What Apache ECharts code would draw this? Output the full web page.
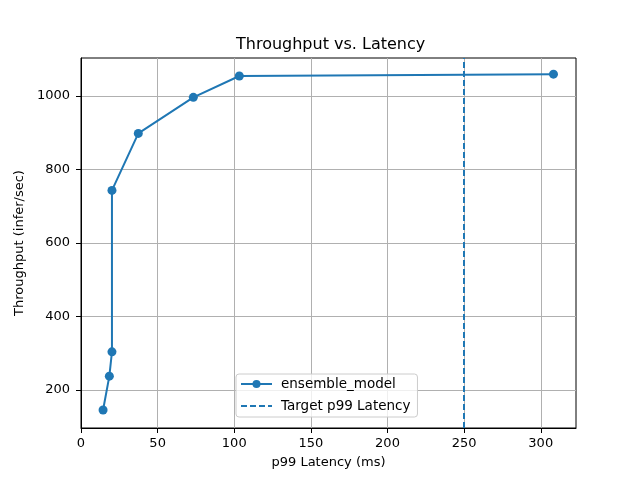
<!DOCTYPE html>
<html>
<head>
<meta charset="utf-8">
<script src="https://cdn.jsdelivr.net/npm/echarts@6/dist/echarts.min.js"></script>
<style>
  html, body { margin: 0; padding: 0; background: #fff; }
  #main { width: 640px; height: 480px; }
</style>
</head>
<body>
<div id="main"></div>
<script>
// p99 latency (ms) vs throughput (infer/sec) for ensemble_model
var latency = [14.4, 18.5, 20.2, 20.2, 37.4, 73.3, 103.3, 308.3];
var throughput = [146, 238, 304, 743, 898, 996, 1054, 1059];
var targetLatency = 250;

var xRange = [0, 323];
var yRange = [97, 1103];
var xTicks = [0, 50, 100, 150, 200, 250, 300];
var yTicks = [200, 400, 600, 800, 1000];

var blue = '#1f77b4';
var font = 'DejaVu Sans';

var points = [];
for (var i = 0; i < latency.length; i++) {
    points.push([latency[i], throughput[i]]);
}

var myChart = echarts.init(document.getElementById('main'));
myChart.setOption({
    animation: false,
    backgroundColor: '#fff',
    title: {
        text: 'Throughput vs. Latency',
        left: 231,
        top: 32,
        textStyle: { fontFamily: font, fontSize: 16, fontWeight: 'normal', color: '#000' }
    },
    grid: {
        left: 81, right: 64, top: 58, bottom: 52,
        show: true, borderColor: '#000', borderWidth: 1
    },
    legend: {
        orient: 'vertical',
        left: 236, top: 374,
        padding: [3, 7, 4, 4],
        itemGap: 8,
        itemWidth: 31, itemHeight: 10,
        backgroundColor: 'rgba(255,255,255,0.8)',
        borderColor: '#cccccc', borderWidth: 1, borderRadius: 3,
        textStyle: { fontFamily: font, fontSize: 13.5, color: '#000', padding: [0, 0, 0, 4] },
        data: [
            { name: 'ensemble_model' },
            // line-only entry: hide the marker that a line series always draws
            { name: 'Target p99 Latency', itemStyle: { color: 'rgba(0,0,0,0)', borderWidth: 0 } }
        ]
    },
    xAxis: {
        type: 'value',
        min: xRange[0], max: xRange[1],
        interval: 50,
        name: 'p99 Latency (ms)',
        nameLocation: 'middle', nameGap: 28,
        nameTextStyle: { fontFamily: font, fontSize: 13, color: '#000' },
        axisLine: { show: true, onZero: false, lineStyle: { color: '#000' } },
        axisTick: { show: true, length: 5, customValues: xTicks, lineStyle: { color: '#000' } },
        axisLabel: {
            fontFamily: font, fontSize: 13, color: '#000', margin: 9,
            customValues: xTicks,
            formatter: function (v) { return String(v); }
        },
        splitLine: { show: true, lineStyle: { color: '#b0b0b0', width: 1 } }
    },
    yAxis: {
        type: 'value',
        min: yRange[0], max: yRange[1],
        splitNumber: 5,
        name: 'Throughput (infer/sec)',
        nameLocation: 'middle', nameGap: 46,
        nameTextStyle: { fontFamily: font, fontSize: 13, color: '#000' },
        axisLine: { show: true, onZero: false, lineStyle: { color: '#000' } },
        axisTick: { show: true, length: 5, customValues: yTicks, lineStyle: { color: '#000' } },
        axisLabel: {
            fontFamily: font, fontSize: 13, color: '#000', margin: 11,
            customValues: yTicks,
            formatter: function (v) { return String(v); }
        },
        splitLine: { show: true, lineStyle: { color: '#b0b0b0', width: 1 } }
    },
    series: [
        {
            name: 'ensemble_model',
            type: 'line',
            data: points,
            color: blue,
            symbol: 'circle',
            symbolSize: 9,
            lineStyle: { color: blue, width: 2 },
            itemStyle: { color: blue }
        },
        {
            name: 'Target p99 Latency',
            type: 'line',
            data: [],
            color: blue,
            symbol: 'none',
            lineStyle: { color: blue, width: 2, type: [6, 3] },
            markLine: {
                silent: true,
                symbol: 'none',
                label: { show: false },
                lineStyle: { color: blue, width: 2, type: [6, 3] },
                data: [{ xAxis: targetLatency }]
            }
        }
    ]
});
</script>
</body>
</html>
